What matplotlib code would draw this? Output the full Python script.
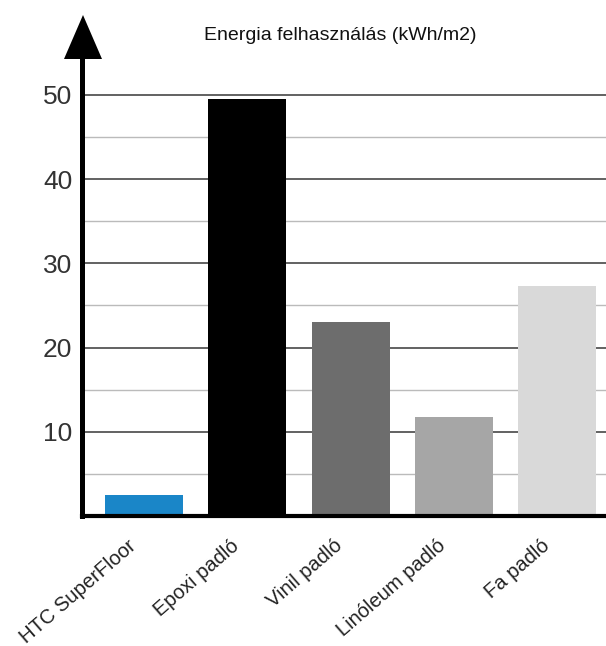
import matplotlib.pyplot as plt
from matplotlib.patches import Polygon
from matplotlib.ticker import MultipleLocator
from matplotlib.transforms import ScaledTranslation

# Energy use per floor type (kWh/m2)
categories = ["HTC SuperFloor", "Epoxi padló", "Vinil padló", "Linóleum padló", "Fa padló"]
values = [2.5, 49.5, 23.0, 11.8, 27.3]
colors = ["#1a86c8", "#000000", "#6d6d6d", "#a6a6a6", "#d9d9d9"]
y_ticks = [10, 20, 30, 40, 50]
title = "Energia felhasználás (kWh/m2)"

plt.rcParams["font.family"] = ["Liberation Sans", "DejaVu Sans"]

W, H = 606, 646
fig = plt.figure(figsize=(W / 100, H / 100), dpi=100)

# axes box in pixels: left spine at x=82, bottom spine at y=516, top at y=58
ax_l, ax_r, ax_b, ax_t = 82, 606, 516, 58
ax = fig.add_axes([ax_l / W, 1 - ax_b / H, (ax_r - ax_l) / W, (ax_b - ax_t) / H])

x = list(range(len(categories)))
ax.bar(x, values, width=0.755, color=colors, zorder=3)

ax.set_xlim(-0.6, 4.47)
ax.set_ylim(0, (ax_b - ax_t) / 8.42)

ax.yaxis.set_major_locator(MultipleLocator(10))
ax.yaxis.set_minor_locator(MultipleLocator(5))
ax.set_yticks(y_ticks)
ax.grid(True, axis="y", which="major", color="#555555", linewidth=1.3, zorder=1)
ax.grid(True, axis="y", which="minor", color="#bbbbbb", linewidth=1.0, zorder=1)
ax.tick_params(axis="y", which="both", length=0, pad=7, labelsize=19, labelcolor="#333333")

ax.set_xticks(x)
ax.set_xticklabels(categories, rotation=41, ha="right", va="top",
                   rotation_mode="anchor", fontsize=14.5, color="#222222")
ax.tick_params(axis="x", length=0, pad=13)
shift = ScaledTranslation(-17 / 100, -2 / 100, fig.dpi_scale_trans)
for lbl in ax.get_xticklabels():
    lbl.set_transform(lbl.get_transform() + shift)

for side in ["top", "right"]:
    ax.spines[side].set_visible(False)
ax.spines["left"].set_linewidth(3.6)
ax.spines["bottom"].set_linewidth(3.0)
ax.spines["left"].set_zorder(5)
ax.spines["bottom"].set_zorder(5)

# arrow head on top of the y axis
aw, ah = ax_r - ax_l, ax_b - ax_t
def frac(px, py):
    return ((px - ax_l) / aw, (ax_b - py) / ah)
tri = Polygon([frac(83, 15), frac(64, 59), frac(102, 59)], closed=True,
              transform=ax.transAxes, facecolor="black", edgecolor="none", clip_on=False, zorder=6)
ax.add_patch(tri)

fig.text(340 / W, 1 - 35 / H, title, ha="center", va="center", fontsize=14, color="#111111")

fig.savefig("out.png", dpi=100)
